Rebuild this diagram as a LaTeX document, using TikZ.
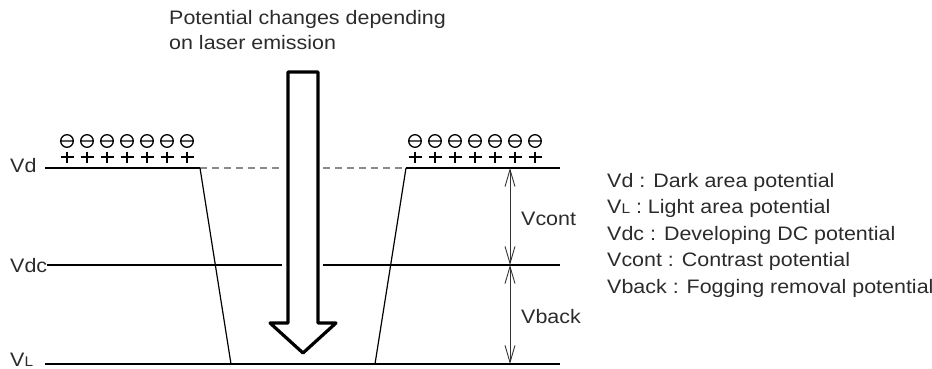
\documentclass[tikz,border=0pt]{standalone}
\usepackage{fontspec}
\setmainfont[FakeStretch=1.1]{Liberation Sans}
\usetikzlibrary{arrows.meta}
\definecolor{txtgray}{HTML}{2B2B2B}
\definecolor{dashgray}{HTML}{8A8A8A}
\begin{document}
\begin{tikzpicture}[x=1pt,y=-1pt,line join=round,font=\fontsize{19.5}{23}\selectfont,
		lbl/.style={text=txtgray,inner sep=0pt,anchor=base west},
		level/.style={line width=1.7pt},
		slope/.style={line width=1.2pt},
		dimline/.style={line width=0.9pt,draw=black!80,{Straight Barb[length=17pt,width=10pt]}-{Straight Barb[length=17pt,width=10pt]}},
		laser/.style={line width=3.2pt,fill=white}]
			\useasboundingbox (0,0) rectangle (932,369);
			% potential levels
			\node[lbl] (vd) at (10,172) {Vd};
			\node[lbl] (vdc) at (10,272) {Vdc};
			\node[lbl] (vl) at (10,366.5) {V{\fontsize{14}{14}\selectfont L}};
			\coordinate (dA) at (45,168); \coordinate (dB) at (200,168); \coordinate (dC) at (406,168); \coordinate (dD) at (560,168);
			\coordinate (lA) at (45,364); \coordinate (lB) at (231,364); \coordinate (lC) at (375,364); \coordinate (lD) at (560,364);
			\draw[level] (dA)--(dB) (dC)--(dD);
			\draw[level] (lA)--(lD);
			\draw[level] (vdc.east|-0,265)--(282,265) (323,265)--(dD|-0,265);
			\draw[dashgray,line width=1.1pt,dash pattern=on 7pt off 5pt] (dB)--(279,168) (323,168)--(dC);
			\draw[slope] (dB)--(lB) (dC)--(lC);
			% charges
			\foreach \i in {0,...,6}{
				\draw[line width=1.3pt] (67+20*\i,141) circle (6.3pt) (61+20*\i,141)--(73+20*\i,141);
				\draw[line width=1.3pt] (415+20*\i,141) circle (6.3pt) (409+20*\i,141)--(421+20*\i,141);
				\draw[line width=1.3pt] (60.5+20*\i,157)--(73.5+20*\i,157) (67+20*\i,151.5)--(67+20*\i,162.5);
				\draw[line width=1.3pt] (408.5+20*\i,157)--(421.5+20*\i,157) (415+20*\i,151.5)--(415+20*\i,162.5);
			}
			% laser arrow
			\draw[laser] (288,72)--(318,72)--(318,323)--(336,323)--(303,353)--(270,323)--(288,323)--cycle;
			\node[lbl] (t1) at (169,25) {Potential changes depending};
			\node[lbl] (t2) at (169,50) {on laser emission};
			% Vcont, Vback
			\coordinate (m1) at (510,168); \coordinate (m2) at (510,265); \coordinate (m3) at (510,364);
			\draw[dimline] (m2)--(m1);
			\draw[dimline] (m3)--(m2);
			\node[lbl] (vcont) at (521,225) {Vcont};
			\node[lbl] (vback) at (521,323) {Vback};
			% legend
			\node[lbl] (g1) at (607,187) {Vd : Dark area potential};
			\node[lbl] (g2) at (607,213.3) {V{\fontsize{14}{14}\selectfont L} : Light area potential};
			\node[lbl] (g3) at (607,240) {Vdc : Developing DC potential};
			\node[lbl] (g4) at (607,266.7) {Vcont : Contrast potential};
			\node[lbl] (g5) at (607,293.3) {Vback : Fogging removal potential};
	\end{tikzpicture}
\end{document}
